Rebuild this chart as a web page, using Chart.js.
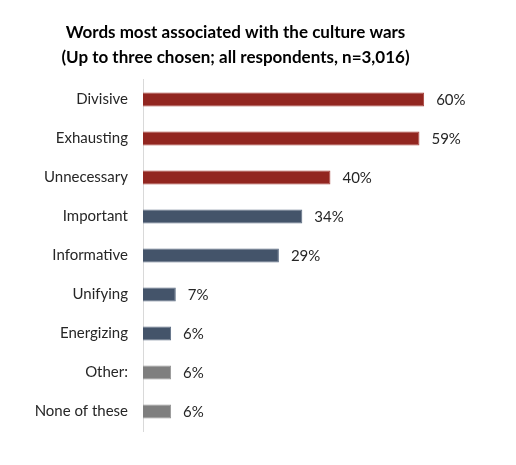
<!DOCTYPE html>
<html>
<head>
<meta charset="utf-8">
<script src="https://cdn.jsdelivr.net/npm/chart.js@4/dist/chart.umd.min.js"></script>
<style>
  html, body { margin: 0; padding: 0; background: #fff; }
  #wrap { width: 516px; height: 465px; }
</style>
</head>
<body>
<div id="wrap"><canvas id="myChart"></canvas></div>
<script>
// categories and shares
const words = ['Divisive', 'Exhausting', 'Unnecessary', 'Important', 'Informative',
               'Unifying', 'Energizing', 'Other:', 'None of these'];
const shares = [60, 59, 40, 34, 29, 7, 6, 6, 6];
const groups = ['neg', 'neg', 'neg', 'pos', 'pos', 'pos', 'pos', 'other', 'other'];

const fills = { neg: '#922620', pos: '#44546A', other: '#7F7F7F' };
const edges = { neg: '#A8403A', pos: '#5E6E84', other: '#959595' };

// percentage labels at the end of each bar
const valueLabels = {
    id: 'valueLabels',
    afterDatasetsDraw(chart) {
        const ctx = chart.ctx;
        const meta = chart.getDatasetMeta(0);
        ctx.save();
        ctx.font = '15px Lato';
        ctx.fillStyle = '#262626';
        ctx.textBaseline = 'middle';
        ctx.textAlign = 'left';
        meta.data.forEach((bar, i) => {
            ctx.fillText(shares[i] + '%', bar.x + 12, bar.y + 1);
        });
        ctx.restore();
    }
};

const renderChart = () => {
    const ctx = document.getElementById('myChart').getContext('2d');

    new Chart(ctx, {
        type: 'bar',
        data: {
            labels: words,
            datasets: [{
                data: shares,
                backgroundColor: groups.map(g => fills[g]),
                borderColor: groups.map(g => edges[g]),
                borderWidth: 1,
                barPercentage: 0.36,
                categoryPercentage: 1
            }]
        },
        options: {
            indexAxis: 'y',
            responsive: true,
            maintainAspectRatio: false,
            animation: false,
            layout: { padding: { left: 0, right: 45, top: 0, bottom: 34 } },
            plugins: {
                legend: { display: false },
                tooltip: { enabled: false },
                title: {
                    display: true,
                    text: ['Words most associated with the culture wars',
                           '(Up to three chosen; all respondents, n=3,016)'],
                    color: '#000',
                    font: { family: 'Lato', size: 17, weight: 'bold', lineHeight: 1.47 },
                    padding: { top: 20, bottom: 10 }
                }
            },
            scales: {
                x: {
                    display: false,
                    min: 0,
                    max: 70
                },
                y: {
                    grid: { display: false, drawTicks: false },
                    border: { display: true, color: '#D9D9D9', width: 1 },
                    ticks: {
                        color: '#262626',
                        padding: 15,
                        font: { family: 'Lato', size: 15 }
                    },
                    afterFit(scale) { scale.width = 143; }
                }
            }
        },
        plugins: [valueLabels]
    });
};

document.addEventListener('DOMContentLoaded', renderChart);
</script>
</body>
</html>
